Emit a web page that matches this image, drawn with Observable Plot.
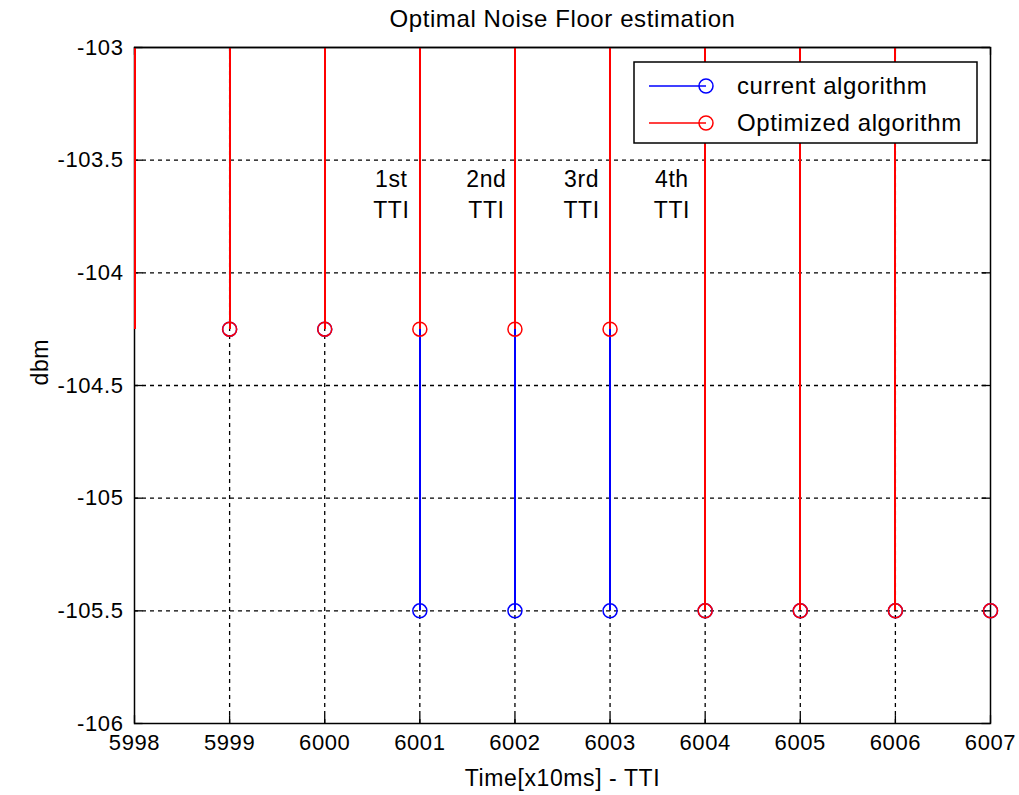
<!DOCTYPE html>
<html>
<head>
<meta charset="utf-8">
<script src="https://cdn.jsdelivr.net/npm/d3@7"></script>
<script src="https://cdn.jsdelivr.net/npm/@observablehq/plot@0.6"></script>
<style>
  html, body { margin: 0; padding: 0; background: #fff; }
  #chart svg { display: block; }
</style>
</head>
<body>
<div id="chart"></div>
<script>
const chartTitle = "Optimal Noise Floor estimation";
const xLabel = "Time[x10ms] - TTI";
const yLabel = "dbm";
const xTicks = [5998, 5999, 6000, 6001, 6002, 6003, 6004, 6005, 6006, 6007];
const yTicks = [-106, -105.5, -105, -104.5, -104, -103.5, -103];

const seriesNames = ["current algorithm", "Optimized algorithm"];
const seriesColors = ["#0000ff", "#ff0000"];

const currentX = [5998, 5999, 6000, 6001, 6002, 6003, 6004, 6005, 6006, 6007];
const currentY = [-104.25, -104.25, -104.25, -105.5, -105.5, -105.5, -105.5, -105.5, -105.5, -105.5];
const optimizedX = [5998, 5999, 6000, 6001, 6002, 6003, 6004, 6005, 6006, 6007];
const optimizedY = [-104.25, -104.25, -104.25, -104.25, -104.25, -104.25, -105.5, -105.5, -105.5, -105.5];

const annotX = [6000.7, 6001.7, 6002.7, 6003.65];
const annotText = ["1st\nTTI", "2nd\nTTI", "3rd\nTTI", "4th\nTTI"];
const annotY = -103.645;

const current = currentX.map((x, i) => ({x, y: currentY[i]}));
const optimized = optimizedX.map((x, i) => ({x, y: optimizedY[i]}));
const annots = annotX.map((x, i) => ({x, y: annotY, text: annotText[i]}));

const xDom = [xTicks[0], xTicks[xTicks.length - 1]];
const yDom = [yTicks[0], yTicks[yTicks.length - 1]];
const innerX = xTicks.slice(1, -1);
const innerY = yTicks.slice(1, -1);
const tickLenY = 0.035, tickLenX = 0.09;

const FONT = "Liberation Sans, Arial, sans-serif";
const FS = 22;

const stems = (data, color) => Plot.ruleX(data, {x: "x", y1: "y", y2: 0, stroke: color, strokeWidth: 2, clip: true, shapeRendering: "crispEdges"});
const dots = (data, color) => Plot.dot(data.filter(d => d.x !== xDom[0]), {x: "x", y: "y", r: 7, stroke: color, strokeWidth: 1.5, fill: "none"});

const plot = Plot.plot({
  width: 1019,
  height: 795,
  marginLeft: 134,
  marginRight: 29,
  marginTop: 47,
  marginBottom: 72,
  style: {fontFamily: FONT, fontSize: FS + "px", color: "#000", background: "#fff", letterSpacing: "0.6px"},
  x: {domain: xDom, ticks: xTicks, tickFormat: d => String(d)},
  y: {domain: yDom, ticks: yTicks, tickFormat: d => String(d)},
  marks: [
    // dashed grid
    Plot.ruleY(innerY, {stroke: "#000", strokeWidth: 1.3, strokeDasharray: "4,4"}),
    Plot.ruleX(innerX, {stroke: "#000", strokeWidth: 1.3, strokeDasharray: "4,4"}),
    // inward ticks
    Plot.ruleX(xTicks, {y1: yDom[0], y2: yDom[0] + tickLenY, stroke: "#000", strokeWidth: 1.3}),
    Plot.ruleX(xTicks, {y1: yDom[1], y2: yDom[1] - tickLenY, stroke: "#000", strokeWidth: 1.3}),
    Plot.ruleY(yTicks, {x1: xDom[0], x2: xDom[0] + tickLenX, stroke: "#000", strokeWidth: 1.3}),
    Plot.ruleY(yTicks, {x1: xDom[1], x2: xDom[1] - tickLenX, stroke: "#000", strokeWidth: 1.3}),
    Plot.frame({stroke: "#000", strokeWidth: 1.5}),
    // stems
    stems(current, seriesColors[0]),
    dots(current, seriesColors[0]),
    stems(optimized, seriesColors[1]),
    dots(optimized, seriesColors[1]),
    Plot.ruleY([yDom[1]], {stroke: "#000", strokeWidth: 1.5}),
    // axes
    Plot.axisX({ticks: xTicks, tickSize: 0, tickPadding: 11, tickFormat: d => String(d), label: null, fill: "#000"}),
    Plot.axisY({ticks: yTicks, tickSize: 0, tickPadding: 11, tickFormat: d => String(d), label: null, fill: "#000"}),
    // annotations
    Plot.text(annots, {x: "x", y: "y", text: "text", fontSize: FS + 1, lineHeight: 1.32, fill: "#000"}),
    // titles
    Plot.text([chartTitle], {frameAnchor: "top", dy: -38, fontSize: 24, fill: "#000", letterSpacing: "0.8px"}),
    Plot.text([xLabel], {frameAnchor: "bottom", dy: 62, fontSize: 23, fill: "#000"}),
    Plot.text([yLabel], {frameAnchor: "left", dx: -94, rotate: -90, fontSize: 23, fill: "#000"})
  ]
});

// legend
const svg = d3.select(plot);
const lg = svg.append("g").attr("font-family", FONT).attr("font-size", 24).attr("letter-spacing", "0.6px").attr("text-anchor", "start");
lg.append("rect").attr("x", 634).attr("y", 62).attr("width", 343).attr("height", 81)
  .attr("fill", "#fff").attr("stroke", "#000").attr("stroke-width", 1.5);
const rowsY = [86, 123];
seriesNames.forEach((name, i) => {
  const yy = rowsY[i];
  lg.append("line").attr("x1", 649).attr("x2", 706).attr("y1", yy).attr("y2", yy)
    .attr("stroke", seriesColors[i]).attr("stroke-width", 1.5);
  lg.append("circle").attr("cx", 706).attr("cy", yy).attr("r", 7)
    .attr("fill", "none").attr("stroke", seriesColors[i]).attr("stroke-width", 1.5);
  lg.append("text").attr("x", 737).attr("y", yy).attr("dy", "0.35em").attr("text-anchor", "start").attr("fill", "#000").text(name);
});

document.getElementById("chart").appendChild(plot);
</script>
</body>
</html>
